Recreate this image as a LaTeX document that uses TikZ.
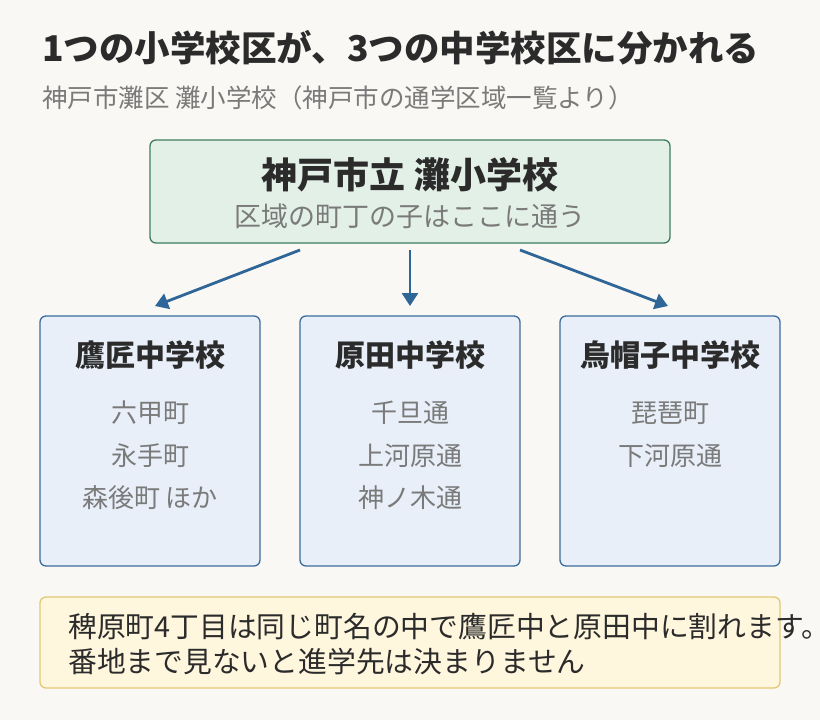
\documentclass[tikz,border=0pt]{standalone}
\usepackage{fontspec}
\setmainfont{Noto Sans CJK JP}
\usetikzlibrary{arrows.meta}
\definecolor{bgcol}{HTML}{FAF8F4}
\definecolor{topfill}{HTML}{E3F0E8}
\definecolor{topline}{HTML}{3E7D5E}
\definecolor{boxfill}{HTML}{E8EFF8}
\definecolor{boxline}{HTML}{3B6C9C}
\definecolor{arrowcol}{HTML}{2F6698}
\definecolor{notefill}{HTML}{FFF6DE}
\definecolor{noteline}{HTML}{E2C874}
\definecolor{darktext}{HTML}{2B2B2B}
\definecolor{graytext}{HTML}{7A7A7A}
\tikzset{
    px/.style={x=1pt, y=-1pt},
    schoolbox/.style={draw=boxline, fill=boxfill, line width=1.3pt, rounded corners=6pt},
    heading/.style={font=\fontsize{30}{34}\selectfont\bfseries, text=darktext},
    area/.style={font=\fontsize{26}{30}\selectfont, text=graytext},
    link/.style={draw=arrowcol, line width=2.8pt, -{Triangle[length=13pt, width=16pt]}}
}
\begin{document}
\begin{tikzpicture}[px]
        \fill[bgcol] (0, 0) rectangle (820, 720);
        \useasboundingbox (0, 0) rectangle (820, 720);
        
        \node[anchor=west, inner sep=0pt, font=\fontsize{35.5}{40}\selectfont\bfseries, text=darktext] (title) at (42, 48) {1つの小学校区が、3つの中学校区に分かれる};
        \node[anchor=west, inner sep=0pt, font=\fontsize{25.5}{30}\selectfont, text=graytext] (subtitle) at (42, 98) {神戸市灘区 灘小学校（神戸市の通学区域一覧より）};
        
        % top school
        \draw[draw=topline, fill=topfill, line width=1.3pt, rounded corners=6pt] (150, 140) rectangle (670, 243);
        \node[font=\fontsize{36}{40}\selectfont\bfseries, text=darktext] (nada) at (410, 175) {神戸市立 灘小学校};
        \node[area, font=\fontsize{27}{30}\selectfont] (nadasub) at (410, 216) {区域の町丁の子はここに通う};
        \coordinate (outL) at (300, 250);
        \coordinate (outM) at (410, 250);
        \coordinate (outR) at (520, 250);
        
        % three junior high schools
        \draw[schoolbox] (40, 316) rectangle (260, 566);
        \node[heading] (takasho) at (150, 355) {鷹匠中学校};
        \node[area] (t1) at (150, 413) {六甲町};
        \node[area] (t2) at (150, 456) {永手町};
        \node[area] (t3) at (150, 498) {森後町 ほか};
        
        \draw[schoolbox] (300, 316) rectangle (520, 566);
        \node[heading] (harada) at (410, 355) {原田中学校};
        \node[area] (h1) at (410, 413) {千旦通};
        \node[area] (h2) at (410, 456) {上河原通};
        \node[area] (h3) at (410, 498) {神ノ木通};
        
        \draw[schoolbox] (560, 316) rectangle (780, 566);
        \node[heading] (eboshi) at (670, 355) {烏帽子中学校};
        \node[area] (e1) at (670, 413) {琵琶町};
        \node[area] (e2) at (670, 456) {下河原通};
        
        \coordinate (inL) at (155, 306);
        \coordinate (inM) at (410, 306);
        \coordinate (inR) at (668, 306);
        \draw[link] (outL) -- (inL);
        \draw[link] (outM) -- (inM);
        \draw[link] (outR) -- (inR);
        
        % note
        \draw[draw=noteline, fill=notefill, line width=1.3pt, rounded corners=6pt] (40, 597) rectangle (780, 688);
        \node[anchor=west, inner sep=0pt, font=\fontsize{28.8}{32}\selectfont, text=darktext] (note1) at (68, 627) {稗原町4丁目は同じ町名の中で鷹匠中と原田中に割れます。};
        \node[anchor=west, inner sep=0pt, font=\fontsize{28.8}{32}\selectfont, text=darktext] (note2) at (68, 662) {番地まで見ないと進学先は決まりません};
    \end{tikzpicture}
\end{document}
